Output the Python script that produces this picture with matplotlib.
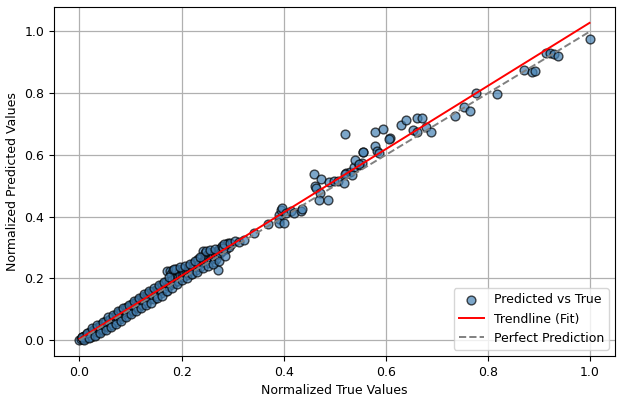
import numpy as np
import matplotlib.pyplot as plt

plt.rcParams['font.size'] = 9

# normalized true values (x)
true_vals = [
    0.000, 0.003, 0.005, 0.007, 0.008, 0.010, 0.012, 0.013, 0.015, 0.016,
    0.018, 0.020, 0.021, 0.023, 0.024, 0.026, 0.028, 0.029, 0.031, 0.032,
    0.034, 0.036, 0.037, 0.039, 0.040, 0.042, 0.044, 0.045, 0.047, 0.049,
    0.050, 0.052, 0.054, 0.055, 0.057, 0.059, 0.060, 0.062, 0.064, 0.065,
    0.067, 0.069, 0.070, 0.072, 0.074, 0.075, 0.077, 0.079, 0.080, 0.082,
    0.084, 0.085, 0.087, 0.089, 0.090, 0.092, 0.094, 0.095, 0.097, 0.099,
    0.100, 0.102, 0.104, 0.105, 0.107, 0.109, 0.110, 0.112, 0.114, 0.115,
    0.117, 0.119, 0.120, 0.122, 0.124, 0.125, 0.127, 0.129, 0.130, 0.132,
    0.134, 0.135, 0.137, 0.139, 0.140, 0.142, 0.144, 0.145, 0.147, 0.149,
    0.150, 0.152, 0.154, 0.155, 0.157, 0.159, 0.160, 0.162, 0.164, 0.165,
    0.167, 0.169, 0.170, 0.171, 0.173, 0.175, 0.177, 0.178, 0.180, 0.182,
    0.183, 0.185, 0.187, 0.188, 0.190, 0.192, 0.193, 0.195, 0.197, 0.198,
    0.200, 0.202, 0.203, 0.205, 0.207, 0.208, 0.210, 0.212, 0.213, 0.215,
    0.217, 0.218, 0.220, 0.222, 0.223, 0.225, 0.227, 0.228, 0.230, 0.232,
    0.233, 0.235, 0.237, 0.238, 0.240, 0.241, 0.243, 0.245, 0.246, 0.248,
    0.250, 0.252, 0.253, 0.255, 0.257, 0.258, 0.260, 0.262, 0.263, 0.265,
    0.267, 0.268, 0.270, 0.271, 0.272, 0.274, 0.276, 0.278, 0.280, 0.283,
    0.286, 0.289, 0.292,
    0.004, 0.009, 0.014, 0.019, 0.025, 0.030, 0.035, 0.041, 0.046, 0.051,
    0.056, 0.061, 0.066, 0.071, 0.076, 0.081, 0.086, 0.091, 0.096, 0.101,
    0.106, 0.111, 0.116, 0.121, 0.126, 0.131, 0.136, 0.141, 0.146, 0.151,
    0.156, 0.161, 0.166, 0.172, 0.176, 0.181, 0.186, 0.191, 0.196, 0.201,
    0.206, 0.211, 0.216, 0.221, 0.226, 0.231, 0.236, 0.242, 0.247, 0.251,
    0.256, 0.261, 0.266, 0.273, 0.279, 0.285, 0.290, 0.296,
    # sparse upper part
    0.281, 0.284, 0.294, 0.304, 0.313, 0.323, 0.341, 0.370, 0.390, 0.391,
    0.391, 0.401, 0.394, 0.397, 0.404, 0.414, 0.420, 0.433, 0.435, 0.459,
    0.474, 0.461, 0.464, 0.472, 0.470, 0.487, 0.488, 0.498, 0.506, 0.518,
    0.522, 0.530, 0.537, 0.547, 0.553, 0.556, 0.521, 0.534, 0.540, 0.548,
    0.555, 0.579, 0.582, 0.586, 0.608, 0.606, 0.579, 0.595, 0.521, 0.630,
    0.639, 0.654, 0.661, 0.671, 0.662, 0.678, 0.689, 0.736, 0.753, 0.765,
    0.777, 0.817, 0.870, 0.887, 0.892, 0.913, 0.921, 0.929, 0.937, 0.999,
]

# normalized predicted values (y)
pred_vals = [
    0.000, 0.004, 0.010, 0.003, 0.014, 0.008, 0.018, 0.006, 0.012, 0.022,
    0.010, 0.026, 0.016, 0.012, 0.030, 0.020, 0.035, 0.024, 0.018, 0.040,
    0.028, 0.044, 0.032, 0.026, 0.048, 0.036, 0.052, 0.040, 0.034, 0.058,
    0.046, 0.062, 0.050, 0.042, 0.066, 0.056, 0.070, 0.058, 0.050, 0.074,
    0.062, 0.078, 0.066, 0.060, 0.084, 0.072, 0.090, 0.076, 0.068, 0.094,
    0.080, 0.098, 0.086, 0.078, 0.104, 0.092, 0.108, 0.096, 0.088, 0.112,
    0.102, 0.116, 0.104, 0.096, 0.122, 0.110, 0.124, 0.112, 0.104, 0.130,
    0.118, 0.134, 0.122, 0.114, 0.140, 0.128, 0.144, 0.130, 0.122, 0.148,
    0.136, 0.152, 0.140, 0.132, 0.156, 0.146, 0.160, 0.132, 0.150, 0.164,
    0.152, 0.144, 0.168, 0.158, 0.174, 0.162, 0.152, 0.178, 0.166, 0.184,
    0.170, 0.160, 0.188, 0.224, 0.176, 0.192, 0.224, 0.180, 0.214, 0.196,
    0.228, 0.186, 0.218, 0.200, 0.230, 0.206, 0.192, 0.222, 0.210, 0.232,
    0.214, 0.204, 0.226, 0.218, 0.234, 0.220, 0.212, 0.230, 0.222, 0.240,
    0.226, 0.216, 0.236, 0.246, 0.230, 0.250, 0.236, 0.226, 0.256, 0.242,
    0.262, 0.246, 0.236, 0.266, 0.252, 0.288, 0.256, 0.270, 0.282, 0.262,
    0.276, 0.250, 0.284, 0.268, 0.280, 0.264, 0.286, 0.272, 0.254, 0.284,
    0.276, 0.264, 0.290, 0.227, 0.280, 0.296, 0.284, 0.300, 0.290, 0.304,
    0.296, 0.310, 0.302,
    0.012, 0.002, 0.024, 0.006, 0.038, 0.014, 0.050, 0.022, 0.058, 0.032,
    0.074, 0.044, 0.082, 0.054, 0.094, 0.062, 0.104, 0.076, 0.114, 0.086,
    0.128, 0.094, 0.138, 0.104, 0.150, 0.114, 0.158, 0.122, 0.170, 0.136,
    0.180, 0.142, 0.190, 0.160, 0.206, 0.170, 0.232, 0.182, 0.236, 0.194,
    0.240, 0.200, 0.248, 0.214, 0.258, 0.222, 0.270, 0.234, 0.290, 0.240,
    0.292, 0.246, 0.296, 0.258, 0.306, 0.272, 0.314, 0.312,
    0.299, 0.310, 0.315, 0.320, 0.317, 0.326, 0.347, 0.377, 0.406, 0.392,
    0.380, 0.380, 0.423, 0.428, 0.412, 0.417, 0.412, 0.420, 0.425, 0.539,
    0.522, 0.500, 0.492, 0.476, 0.455, 0.455, 0.512, 0.514, 0.514, 0.509,
    0.541, 0.546, 0.562, 0.568, 0.573, 0.611, 0.668, 0.535, 0.584, 0.571,
    0.608, 0.630, 0.614, 0.605, 0.656, 0.652, 0.673, 0.684, 0.539, 0.697,
    0.713, 0.681, 0.720, 0.720, 0.673, 0.689, 0.673, 0.726, 0.754, 0.742,
    0.802, 0.797, 0.874, 0.867, 0.872, 0.931, 0.931, 0.926, 0.919, 0.974,
]

x = np.array(true_vals)
y = np.array(pred_vals)

fig, ax = plt.subplots(figsize=(6.17, 4.01), dpi=100)

ax.scatter(x, y, s=40, color='steelblue', alpha=0.7, edgecolors='k',
           label='Predicted vs True', zorder=3)

# linear fit through the points
slope, intercept = np.polyfit(x, y, 1)
xs = np.array([x.min(), x.max()])
ax.plot(xs, slope * xs + intercept, color='red', lw=1.4, label='Trendline (Fit)', zorder=4)

# perfect prediction y = x
ax.plot(xs, xs, color='gray', ls='--', lw=1.4, label='Perfect Prediction', zorder=4)

ax.set_xlabel('Normalized True Values')
ax.set_ylabel('Normalized Predicted Values')
ax.grid(True, color='#b0b0b0', lw=0.9)
ax.set_axisbelow(True)
ax.legend(loc='lower right')

plt.subplots_adjust(left=0.0875, right=0.9968, top=0.9825, bottom=0.112)
plt.savefig('out.png', dpi=100)
